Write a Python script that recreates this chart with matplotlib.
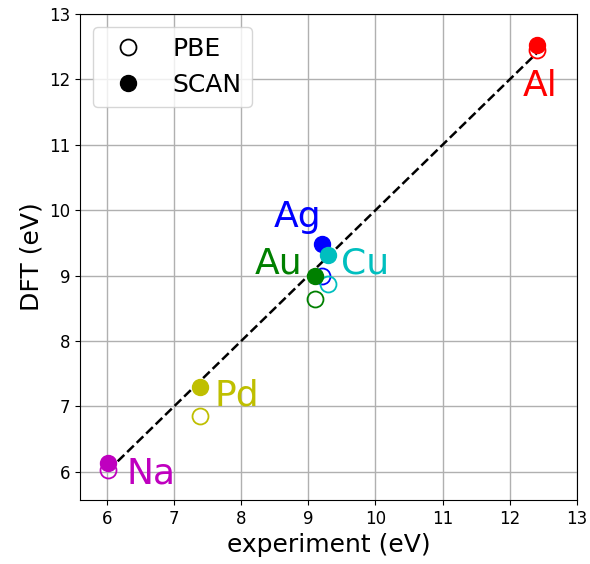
import matplotlib
matplotlib.use("Agg")
import matplotlib.pyplot as plt

elements = ["Na", "Pd", "Au", "Ag", "Cu", "Al"]
colors = ["m", "y", "g", "b", "c", "r"]
experiment = [6.02, 7.39, 9.10, 9.20, 9.30, 12.40]
pbe = [6.03, 6.85, 8.64, 8.99, 8.88, 12.45]
scan = [6.13, 7.30, 8.99, 9.49, 9.31, 12.53]
label_x = [6.66, 7.93, 8.55, 8.84, 9.85, 12.46]
label_y = [5.98, 7.17, 9.18, 9.89, 9.19, 11.9]

fig = plt.figure(figsize=(5.9, 5.64), dpi=100)
ax = fig.add_axes([0.1356, 0.1135, 0.842, 0.8615])

lo, hi = min(experiment), max(experiment)
ax.plot([lo, hi], [lo, hi], "k--", lw=1.8, zorder=2)

for i, el in enumerate(elements):
    ax.plot(experiment[i], pbe[i], "o", mfc="none", mec=colors[i], ms=11.5, mew=1.3, zorder=3)
    ax.plot(experiment[i], scan[i], "o", color=colors[i], ms=11.5, zorder=4)
    ax.text(label_x[i], label_y[i], el, color=colors[i], fontsize=26, ha="center", va="center")

h1, = ax.plot([], [], "o", mfc="none", mec="k", ms=11.5, mew=1.3, label="PBE")
h2, = ax.plot([], [], "o", color="k", ms=11.5, label="SCAN")
ax.legend(handles=[h1, h2], loc="upper left", fontsize=18)

ax.set_xlim(5.6, 13)
ax.set_ylim(5.57, 13)
ax.set_xticks(range(6, 14))
ax.set_yticks(range(6, 14))
ax.tick_params(labelsize=12)
ax.grid(True, color="#b0b0b0", lw=1.0)
ax.set_axisbelow(True)
ax.set_xlabel("experiment (eV)", fontsize=18)
ax.set_ylabel("DFT (eV)", fontsize=18)

fig.savefig("out.png", dpi=100)
